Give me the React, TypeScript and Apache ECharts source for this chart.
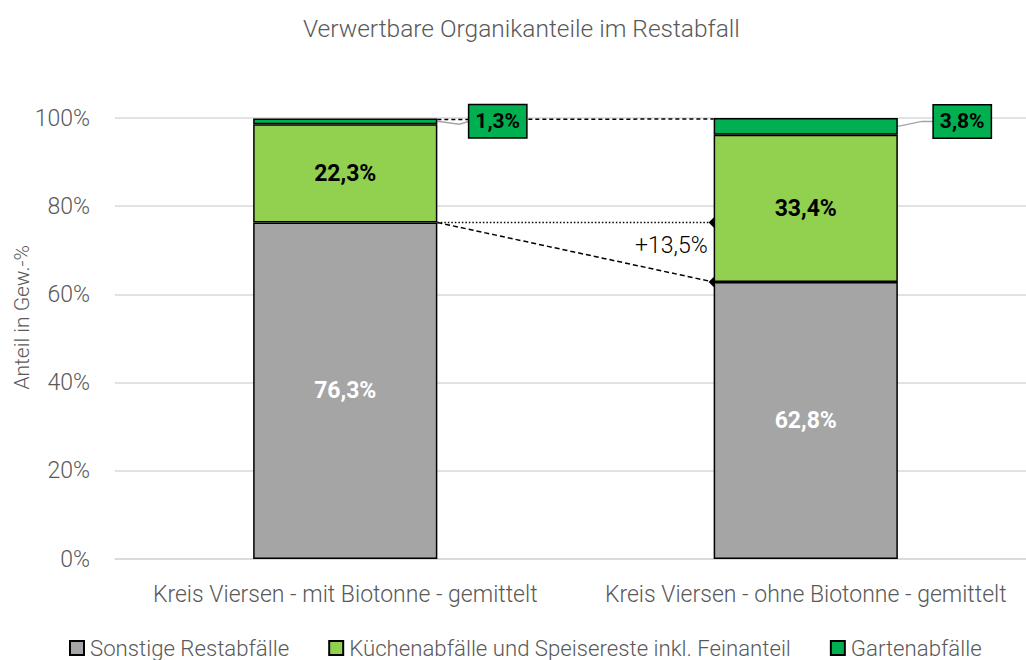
import React, { useEffect, useRef } from "react";
import * as echarts from "echarts";

const categories = [
  "Kreis Viersen - mit Biotonne - gemittelt",
  "Kreis Viersen - ohne Biotonne - gemittelt",
];
const seriesNames = [
  "Sonstige Restabfälle",
  "Küchenabfälle und Speisereste inkl. Feinanteil",
  "Gartenabfälle",
];
const sonstige = [76.3, 62.8];
const kueche = [22.3, 33.4];
const garten = [1.3, 3.8];
const yTicks = { min: 0, max: 100, interval: 20 };

const FONT = "Roboto, 'Noto Sans', sans-serif";
const GRAY_TXT = "#595959";
const fmt = (v: number) => v.toFixed(1).replace(".", ",") + "%";

export default function App() {
  const ref = useRef<HTMLDivElement>(null);
  useEffect(() => {
    if (!ref.current) return;
    const chart = echarts.init(ref.current, null, { renderer: "svg" });
    const BAR_RATIO = 0.4;
    const totals = categories.map((_, i) => sonstige[i] + kueche[i] + garten[i]);
    const option: any = {
      animation: false,
      textStyle: { fontFamily: FONT },
      title: {
        text: "Verwertbare Organikanteile im Restabfall",
        left: 298,
        top: 11,
        textStyle: { fontFamily: FONT, fontWeight: 300, fontSize: 24.5, color: GRAY_TXT },
      },
      grid: {
        left: 115,
        width: 921,
        top: 118,
        bottom: 101,
        containLabel: false,
        outerBoundsMode: "none",
      },
      legend: {
        data: seriesNames,
        top: 632,
        left: 64,
        itemWidth: 14,
        itemHeight: 14,
        itemGap: 39,
        icon: "rect",
        textStyle: { fontFamily: FONT, fontWeight: 300, fontSize: 22.2, color: GRAY_TXT, padding: [0, 0, 0, 1] },
      },
      xAxis: {
        type: "category",
        data: categories,
        axisTick: { show: false },
        axisLine: { show: true, lineStyle: { color: "#d9d9d9", width: 1.5 } },
        axisLabel: { interval: 0, fontFamily: FONT, fontWeight: 300, fontSize: 23, color: GRAY_TXT, margin: 24 },
      },
      yAxis: {
        type: "value",
        min: yTicks.min,
        max: yTicks.max,
        interval: yTicks.interval,
        axisLabel: { formatter: "{value}%", fontFamily: FONT, fontWeight: 300, fontSize: 23, color: GRAY_TXT, margin: 25 },
        splitLine: { lineStyle: { color: "#d9d9d9", width: 1.5 } },
        axisLine: { show: false },
        axisTick: { show: false },
      },
      graphic: [
        {
          type: "text",
          left: 11,
          top: 245,
          rotation: Math.PI / 2,
          style: {
            text: "Anteil in Gew.-%",
            fontFamily: FONT,
            fontWeight: 300,
            fontSize: 21,
            fill: GRAY_TXT,
          },
        },
      ],
      series: [
        {
          name: seriesNames[0],
          type: "bar",
          stack: "s",
          barWidth: "40%",
          z: 3,
          data: sonstige,
          itemStyle: { color: "#a5a5a5", borderColor: "#000", borderWidth: 1.5 },
          label: {
            show: true,
            position: "inside",
            formatter: (p: any) => fmt(p.value),
            fontFamily: FONT,
            fontWeight: "bold",
            fontSize: 23,
            color: "#fff",
          },
        },
        {
          name: seriesNames[1],
          type: "bar",
          stack: "s",
          barWidth: "40%",
          z: 3,
          data: kueche,
          itemStyle: { color: "#92d050", borderColor: "#000", borderWidth: 1.5 },
          label: {
            show: true,
            position: "inside",
            formatter: (p: any) => fmt(p.value),
            fontFamily: FONT,
            fontWeight: "bold",
            fontSize: 23,
            color: "#000",
          },
        },
        {
          name: seriesNames[2],
          type: "bar",
          stack: "s",
          barWidth: "40%",
          z: 3,
          data: garten.map((v, i) => ({
            value: v,
            label: i === 0 ? { distance: 32, offset: [0, 0] } : { distance: 36, offset: [0, -5] },
          })),
          itemStyle: { color: "#00b050", borderColor: "#000", borderWidth: 1.5 },
          label: {
            show: true,
            position: "right",
            formatter: (p: any) => fmt(p.value),
            fontFamily: FONT,
            fontWeight: "bold",
            fontSize: 21,
            color: "#000",
            backgroundColor: "#00b050",
            borderColor: "#000",
            borderWidth: 1.5,
            padding: [6, 6, 5, 6],
          },
        },
        {
          type: "custom",
          z: 2,
          silent: true,
          data: [[0]],
          renderItem: (params: any, api: any) => {
            const band = api.size([1, 0])[0];
            const hw = (band * BAR_RATIO) / 2;
            const x1r = api.coord([0, 0])[0] + hw;
            const x2l = api.coord([1, 0])[0] - hw;
            const x2r = api.coord([1, 0])[0] + hw;
            const yTop1 = api.coord([0, totals[0]])[1];
            const yTop2 = api.coord([1, totals[1]])[1];
            const yS1 = api.coord([0, sonstige[0]])[1];
            const yS2 = api.coord([1, sonstige[1]])[1];
            const yG1 = api.coord([0, totals[0] - garten[0] / 2])[1];
            const yG2 = api.coord([1, totals[1] - garten[1] / 2])[1];
            const diff = sonstige[0] - sonstige[1];
            const diamond = (x: number, y: number) => ({
              type: "polygon",
              shape: { points: [[x - 5, y], [x, y - 5], [x + 5, y], [x, y + 5]] },
              style: { fill: "#000" },
            });
            return {
              type: "group",
              children: [
                {
                  type: "line",
                  shape: { x1: x1r, y1: yTop1 + 1, x2: x2l, y2: yTop2 + 1 },
                  style: { stroke: "#000", lineWidth: 1.5, lineDash: [4, 3] },
                },
                {
                  type: "line",
                  shape: { x1: x1r, y1: yS1, x2: x2l, y2: yS1 },
                  style: { stroke: "#000", lineWidth: 1.5, lineDash: [1.5, 2] },
                },
                {
                  type: "line",
                  shape: { x1: x1r, y1: yS1, x2: x2l, y2: yS2 },
                  style: { stroke: "#000", lineWidth: 1.5, lineDash: [5, 3] },
                },
                diamond(x2l, yS1),
                diamond(x2l, yS2),
                {
                  type: "text",
                  style: {
                    text: "+" + diff.toFixed(1).replace(".", ",") + "%",
                    x: x2l - 6,
                    y: (yS1 + yS2) / 2 - 7,
                    align: "right",
                    verticalAlign: "middle",
                    fontFamily: FONT,
                    fontWeight: 300,
                    fontSize: 23,
                    fill: "#000",
                  },
                },
                {
                  type: "polyline",
                  shape: { points: [[x1r, yG1], [x1r + 22, yG1 + 3], [x1r + 32, yG1]] },
                  style: { stroke: "#a5a5a5", lineWidth: 1.5, fill: null },
                },
                {
                  type: "polyline",
                  shape: { points: [[x2r, yG2], [x2r + 24, yG2 - 5], [x2r + 36, yG2 - 5]] },
                  style: { stroke: "#a5a5a5", lineWidth: 1.5, fill: null },
                },
              ],
            };
          },
        },
      ],
    };
    chart.setOption(option);
    return () => chart.dispose();
  }, []);
  return (
    <div
      ref={ref}
      style={{ position: "fixed", left: 0, top: 0, width: 1026, height: 660, background: "#fff" }}
    />
  );
}
